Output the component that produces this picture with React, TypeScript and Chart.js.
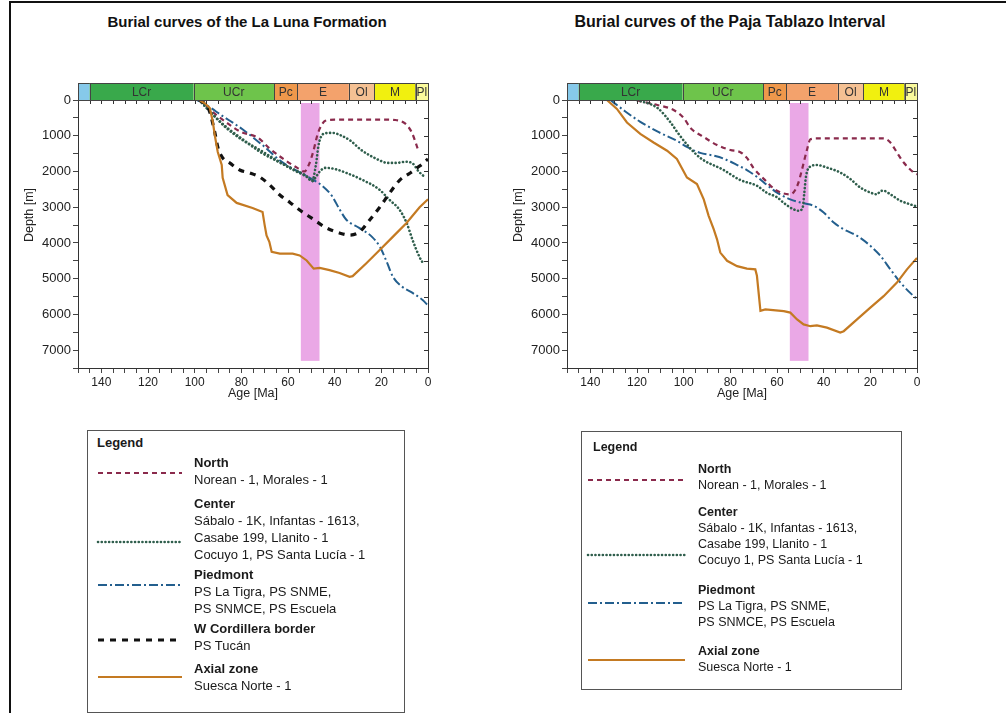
import React, { useEffect, useRef } from 'react';
import { Chart, registerables } from 'chart.js';

Chart.register(...registerables);

// ---------- Geological time scale (Ma) ----------
const periodStart = [150, 145, 100.5, 66, 56, 33.9, 23, 5.3];
const periodEnd = [145, 100.5, 66, 56, 33.9, 23, 5.3, 0];
const periodLabels = ['', 'LCr', 'UCr', 'Pc', 'E', 'Ol', 'M', 'Pl'];
const periodColors = ['#86c9ea', '#39a94b', '#6ec44b', '#ef984b', '#f3a26c', '#f5c193', '#f1f00f', '#fbfb9c'];

// highlighted interval (pink band)
const bandAges = [54.5, 46.5];
const bandDepths = [0, 7300];

// ---------- La Luna Formation ----------
const lunaNorthAge = [98, 92, 86, 80, 73, 68, 62, 56, 53, 51, 49, 47.5, 46, 44, 40, 30, 20, 14, 10, 7, 5, 4];
const lunaNorthDepth = [0, 350, 650, 900, 1050, 1350, 1650, 1900, 2000, 1800, 1400, 1000, 750, 580, 550, 550, 550, 560, 650, 900, 1250, 1450];

const lunaCenterAAge = [98, 93, 87, 80, 72, 65, 58, 52, 49.7, 48, 47, 46, 44, 41, 37, 33, 29, 25, 21, 17.5, 13.5, 9.5, 6.5, 4, 1.5];
const lunaCenterADepth = [0, 350, 750, 1100, 1400, 1680, 1950, 2150, 2270, 1800, 1300, 1050, 930, 920, 1000, 1150, 1380, 1550, 1680, 1760, 1760, 1730, 1780, 2000, 2150];

const lunaCenterBAge = [98, 92, 86, 79, 72, 65, 58, 52, 49.5, 48, 46.4, 44, 40, 35, 28, 21, 16.4, 12.1, 9.1, 6.6, 3.6, 2];
const lunaCenterBDepth = [0, 420, 780, 1120, 1450, 1700, 1930, 2130, 2270, 2150, 2000, 1900, 1930, 2040, 2240, 2500, 2800, 3080, 3450, 3920, 4400, 4580];

const lunaPiedmontAge = [99, 96, 88, 79.5, 71, 62.5, 54, 49.5, 45, 41, 38, 35, 29.5, 24, 20.5, 17.5, 15, 11, 6.6, 2.3, 0];
const lunaPiedmontDepth = [0, 100, 450, 820, 1260, 1740, 2060, 2220, 2420, 2700, 3050, 3350, 3580, 3830, 4120, 4560, 4950, 5230, 5400, 5600, 5750];

const lunaWCordAge = [98, 95, 93.5, 91.4, 90, 88, 85, 80.7, 76.4, 72, 67.8, 63.5, 59.3, 55, 50, 43.5, 38, 33.6, 29.3, 25, 20.7, 16.4, 12.1, 7.8, 3.6, 0];
const lunaWCordDepth = [0, 150, 340, 900, 1340, 1620, 1760, 1960, 2040, 2160, 2380, 2660, 2860, 3080, 3300, 3580, 3720, 3780, 3690, 3360, 3000, 2600, 2240, 2050, 1850, 1650];

const lunaAxialAge = [98, 95.5, 93.5, 92.2, 91.4, 90.1, 88.4, 88, 85.9, 82, 75.2, 70.9, 70, 69.2, 68, 67, 63.5, 58, 55, 52, 49, 46.4, 42.2, 37.9, 33.6, 32.3, 26.3, 20.7, 15.1, 9.2, 3.6, 0];
const lunaAxialDepth = [0, 100, 224, 616, 980, 1455, 1820, 2180, 2660, 2880, 3020, 3135, 3500, 3790, 3970, 4250, 4300, 4300, 4350, 4490, 4720, 4700, 4760, 4840, 4950, 4930, 4560, 4200, 3830, 3440, 3000, 2780];

// ---------- Paja Tablazo Interval ----------
const pajaNorthAge = [120, 118.6, 111.3, 104.3, 100, 97.1, 91.4, 85.7, 80, 75.7, 72.9, 70.1, 65.8, 60, 54.3, 52.5, 51, 49.3, 47.1, 45.7, 43, 30, 14.3, 11.4, 8.6, 5.7, 1.4, 0];
const pajaNorthDepth = [0, 30, 140, 280, 500, 780, 1035, 1260, 1400, 1460, 1620, 1900, 2200, 2540, 2640, 2550, 2350, 1950, 1380, 1100, 1075, 1075, 1075, 1190, 1470, 1750, 2030, 2080];

const pajaCenterAge = [120, 111.3, 105.7, 102.7, 98.4, 92.9, 82.9, 75.7, 68.6, 64.3, 60, 57.1, 52.9, 50.7, 49, 48.3, 47.6, 45.7, 42.9, 38.6, 32.9, 28.6, 24.3, 20, 17.1, 15.7, 14.3, 11.4, 7.1, 2.9, 0];
const pajaCenterDepth = [0, 220, 620, 900, 1260, 1620, 1960, 2240, 2400, 2600, 2720, 2880, 3060, 3100, 3010, 2600, 2150, 1860, 1820, 1890, 2030, 2210, 2450, 2590, 2640, 2550, 2540, 2640, 2820, 2920, 2980];

const pajaPiedmontAge = [131.4, 125, 118.6, 111.3, 102.7, 98.4, 92.9, 87, 82.9, 77, 72.9, 68, 64.3, 60, 54.3, 48.6, 44.3, 40, 35.7, 31.4, 25.7, 20, 15.7, 11.4, 7.1, 1.4, 0];
const pajaPiedmontDepth = [0, 320, 610, 880, 1150, 1320, 1480, 1560, 1640, 1820, 1960, 2180, 2380, 2590, 2780, 2890, 2960, 3150, 3430, 3620, 3800, 4080, 4360, 4740, 5110, 5490, 5560];

const pajaAxialAge = [132.9, 128.6, 124.3, 118.6, 112.9, 107.1, 102.9, 98.6, 94.3, 91.4, 89.3, 87.1, 85.7, 84.3, 81.4, 77.1, 72.9, 69.3, 68.6, 67.1, 65, 57.1, 54.3, 51.4, 48.6, 45.7, 42.9, 38.6, 32.9, 31.4, 25.7, 20, 14.3, 8.6, 4.3, 0];
const pajaAxialDepth = [0, 250, 630, 950, 1190, 1420, 1650, 2170, 2350, 2780, 3240, 3620, 3900, 4270, 4500, 4650, 4720, 4740, 4920, 5900, 5860, 5910, 5950, 6140, 6280, 6330, 6310, 6370, 6510, 6470, 6140, 5810, 5490, 5110, 4740, 4420];

// ---------- axes ----------
const ageRange = [0, 150];
const depthRange = [0, 7500];
const ageLabelStep = 20;
const depthLabelStep = 1000;
const ageTitle = 'Age [Ma]';
const depthTitle = 'Depth [m]';

// ---------- legend text ----------
const groupNames = ['North', 'Center', 'Piedmont', 'W Cordillera border', 'Axial zone'];
const groupWells = [
  ['Norean - 1, Morales - 1'],
  ['Sábalo - 1K, Infantas - 1613,', 'Casabe 199, Llanito - 1', 'Cocuyo 1, PS Santa Lucía - 1'],
  ['PS La Tigra, PS SNME,', 'PS SNMCE, PS Escuela'],
  ['PS Tucán'],
  ['Suesca Norte - 1'],
];

// ---------- styles ----------
type LineStyle = { color: string; dash: number[]; width: number; cap: CanvasLineCap; smooth: boolean };
const groupStyles: Record<string, LineStyle> = {
  North: { color: '#8a2a4c', dash: [5, 4], width: 2.2, cap: 'butt', smooth: true },
  Center: { color: '#2f5e4c', dash: [0.1, 3.6], width: 2.6, cap: 'round', smooth: true },
  Piedmont: { color: '#235f8e', dash: [9, 3, 2, 3], width: 2, cap: 'butt', smooth: true },
  'W Cordillera border': { color: '#111111', dash: [6, 6], width: 3.2, cap: 'butt', smooth: true },
  'Axial zone': { color: '#c47a22', dash: [], width: 2.2, cap: 'butt', smooth: false },
};

const FONT = "'Liberation Sans', Arial, Helvetica, sans-serif";

function pts(a: number[], d: number[]) {
  return a.map((v, i) => ({ x: v, y: d[i] }));
}

function ds(group: string, a: number[], d: number[]) {
  const s = groupStyles[group];
  return {
    label: group,
    data: pts(a, d),
    borderColor: s.color,
    borderWidth: s.width,
    borderDash: s.dash,
    borderCapStyle: s.cap,
    pointRadius: 0,
    fill: false,
    cubicInterpolationMode: s.smooth ? 'monotone' : 'default',
    tension: 0,
  } as any;
}

const decorPlugin = {
  id: 'geoDecor',
  beforeDatasetsDraw(chart: any) {
    const { ctx, scales } = chart;
    const xs = scales.x, ys = scales.y;
    const x1 = xs.getPixelForValue(bandAges[0]);
    const x2 = xs.getPixelForValue(bandAges[1]);
    const y1 = ys.getPixelForValue(bandDepths[0]);
    const y2 = ys.getPixelForValue(bandDepths[1]);
    ctx.save();
    ctx.fillStyle = '#eaa8e6';
    ctx.fillRect(Math.min(x1, x2), y1 + 3, Math.abs(x2 - x1), y2 - y1 - 3);
    ctx.restore();
  },
  afterDraw(chart: any) {
    const { ctx, chartArea: a, scales } = chart;
    const xs = scales.x, ys = scales.y;
    ctx.save();
    ctx.strokeStyle = '#333';
    ctx.lineWidth = 1;
    ctx.beginPath();
    ctx.moveTo(Math.round(a.right) + 0.5, a.top);
    ctx.lineTo(Math.round(a.right) + 0.5, a.bottom);
    xs.ticks.forEach((t: any) => {
      const px = Math.round(xs.getPixelForValue(t.value)) + 0.5;
      ctx.moveTo(px, a.top);
      ctx.lineTo(px, a.top + 4);
    });
    ys.ticks.forEach((t: any) => {
      const py = Math.round(ys.getPixelForValue(t.value)) + 0.5;
      ctx.moveTo(a.right, py);
      ctx.lineTo(a.right - 4, py);
    });
    ctx.stroke();

    // vertical axis title
    ctx.save();
    ctx.translate(30, a.top + 115);
    ctx.rotate(-Math.PI / 2);
    ctx.fillStyle = '#222';
    ctx.font = `12.5px ${FONT}`;
    ctx.textAlign = 'center';
    ctx.textBaseline = 'middle';
    ctx.fillText(depthTitle, 0, 0);
    ctx.restore();

    // time scale bar
    const barH = 17;
    const top = a.top - barH;
    for (let i = 0; i < periodStart.length; i++) {
      const x1 = xs.getPixelForValue(periodStart[i]);
      const x2 = xs.getPixelForValue(periodEnd[i]);
      ctx.fillStyle = periodColors[i];
      ctx.fillRect(x1, top, x2 - x1, barH);
      ctx.strokeStyle = '#444';
      ctx.lineWidth = 1;
      ctx.strokeRect(Math.round(x1) + 0.5, Math.round(top) + 0.5, Math.round(x2 - x1), barH);
      if (periodLabels[i]) {
        ctx.save();
        ctx.beginPath();
        ctx.rect(x1 + 1, top, x2 - x1 - 1, barH);
        ctx.clip();
        ctx.fillStyle = '#333';
        ctx.font = `12px ${FONT}`;
        ctx.textAlign = 'center';
        ctx.textBaseline = 'middle';
        ctx.fillText(periodLabels[i], (x1 + x2) / 2, top + barH / 2 + 1);
        ctx.restore();
      }
    }
    ctx.restore();
  },
};

function BurialChart({ left, datasets }: { left: number; datasets: any[] }) {
  const ref = useRef<HTMLCanvasElement>(null);
  useEffect(() => {
    const chart = new Chart(ref.current as HTMLCanvasElement, {
      type: 'line',
      data: { datasets },
      options: {
        animation: false,
        responsive: false,
        devicePixelRatio: 1,
        layout: { padding: { left: 20, right: 72, top: 100, bottom: 10 } },
        plugins: { legend: { display: false }, title: { display: false }, tooltip: { enabled: false } },
        scales: {
          x: {
            type: 'linear',
            min: ageRange[0],
            max: ageRange[1],
            reverse: true,
            ticks: {
              stepSize: 5,
              autoSkip: false,
              maxRotation: 0,
              padding: 2,
              color: '#222',
              font: { family: FONT, size: 12 },
              callback: (v: any) => (Number(v) % ageLabelStep === 0 ? String(v) : ''),
            },
            grid: { drawOnChartArea: false, drawTicks: true, tickLength: 5, color: '#444' },
            border: { display: true, color: '#333' },
            title: { display: true, text: ageTitle, color: '#222', font: { family: FONT, size: 12.5, lineHeight: 1.1 }, padding: 0 },
            afterFit: (s: any) => { s.height = 32; },
          },
          y: {
            type: 'linear',
            min: depthRange[0],
            max: depthRange[1],
            reverse: true,
            ticks: {
              stepSize: 500,
              autoSkip: false,
              padding: 2,
              color: '#222',
              font: { family: FONT, size: 13 },
              callback: (v: any) => (Number(v) % depthLabelStep === 0 ? String(v) : ''),
            },
            grid: { drawOnChartArea: false, drawTicks: true, tickLength: 5, color: '#444' },
            border: { display: true, color: '#333' },
            title: { display: false },
            afterFit: (s: any) => { s.width = 58; },
          },
        },
      } as any,
      plugins: [decorPlugin],
    });
    return () => chart.destroy();
  }, []);
  return <canvas ref={ref} width={500} height={410} style={{ position: 'absolute', left, top: 0 }} />;
}

type LegendLayout = {
  box: [number, number, number, number];
  headY: number;
  headX: number;
  textX: number;
  sampleX: [number, number];
  titleYs: number[];
  sampleYs: number[];
  lineH: number;
  fontSize: number;
  groups: number[];
};

function Legend({ L }: { L: LegendLayout }) {
  const [bx, by, bw, bh] = L.box;
  const items: any[] = [];
  L.groups.forEach((g, k) => {
    const name = groupNames[g];
    const ty = L.titleYs[k];
    items.push(
      <div key={'t' + k} style={{ position: 'absolute', left: L.textX, top: ty - L.lineH / 2, lineHeight: L.lineH + 'px', fontSize: L.fontSize, fontWeight: 'bold', whiteSpace: 'nowrap', color: '#1a1a1a' }}>{name}</div>
    );
    groupWells[g].forEach((w, j) => {
      items.push(
        <div key={'w' + k + '_' + j} style={{ position: 'absolute', left: L.textX, top: ty + L.lineH * (j + 1) - L.lineH / 2, lineHeight: L.lineH + 'px', fontSize: L.fontSize, whiteSpace: 'nowrap', color: '#1a1a1a' }}>{w}</div>
      );
    });
  });
  return (
    <>
      <div style={{ position: 'absolute', left: bx, top: by, width: bw, height: bh, border: '1px solid #555', boxSizing: 'border-box' }} />
      <div style={{ position: 'absolute', left: L.headX, top: L.headY - 8, lineHeight: '16px', fontSize: L.fontSize, fontWeight: 'bold', color: '#1a1a1a' }}>Legend</div>
      <svg style={{ position: 'absolute', left: 0, top: 0 }} width={1006} height={713}>
        {L.groups.map((g, k) => {
          const s = groupStyles[groupNames[g]];
          return (
            <line key={k} x1={L.sampleX[0]} x2={L.sampleX[1]} y1={L.sampleYs[k]} y2={L.sampleYs[k]}
              stroke={s.color} strokeWidth={s.width} strokeDasharray={s.dash.length ? s.dash.join(' ') : undefined}
              strokeLinecap={s.cap as any} />
          );
        })}
      </svg>
      {items}
    </>
  );
}

const leftLegend: LegendLayout = {
  box: [87, 430, 318, 283],
  headY: 443,
  headX: 97,
  textX: 194,
  sampleX: [98, 182],
  titleYs: [462, 503, 574, 628, 668],
  sampleYs: [473, 542, 585, 640, 677],
  lineH: 17,
  fontSize: 13,
  groups: [0, 1, 2, 3, 4],
};

const rightLegend: LegendLayout = {
  box: [581, 431, 321, 259],
  headY: 447,
  headX: 593,
  textX: 698,
  sampleX: [588, 685],
  titleYs: [469, 512, 590, 651],
  sampleYs: [480, 555, 603, 660],
  lineH: 16,
  fontSize: 12.5,
  groups: [0, 1, 2, 4],
};

export default function App() {
  const lunaSets = [
    ds('Axial zone', lunaAxialAge, lunaAxialDepth),
    ds('W Cordillera border', lunaWCordAge, lunaWCordDepth),
    ds('Center', lunaCenterBAge, lunaCenterBDepth),
    ds('Center', lunaCenterAAge, lunaCenterADepth),
    ds('North', lunaNorthAge, lunaNorthDepth),
    ds('Piedmont', lunaPiedmontAge, lunaPiedmontDepth),
  ];
  const pajaSets = [
    ds('Axial zone', pajaAxialAge, pajaAxialDepth),
    ds('Center', pajaCenterAge, pajaCenterDepth),
    ds('North', pajaNorthAge, pajaNorthDepth),
    ds('Piedmont', pajaPiedmontAge, pajaPiedmontDepth),
  ];
  const titleStyle: React.CSSProperties = {
    position: 'absolute', top: 13, width: 440, textAlign: 'center', fontFamily: FONT,
    fontWeight: 'bold', lineHeight: '18px', color: '#111',
  };
  return (
    <div style={{ position: 'absolute', left: 0, top: 0, width: 1006, height: 713, overflow: 'hidden', background: '#fff', fontFamily: FONT }}>
      <div style={{ position: 'absolute', left: 9, top: 1, width: 1100, height: 800, borderLeft: '2px solid #111', borderTop: '2px solid #111' }} />
      <div style={{ ...titleStyle, left: 27, fontSize: 15 }}>Burial curves of the La Luna Formation</div>
      <div style={{ ...titleStyle, left: 510, fontSize: 16 }}>Burial curves of the Paja Tablazo Interval</div>
      <BurialChart left={0} datasets={lunaSets} />
      <BurialChart left={489} datasets={pajaSets} />
      <Legend L={leftLegend} />
      <Legend L={rightLegend} />
    </div>
  );
}
